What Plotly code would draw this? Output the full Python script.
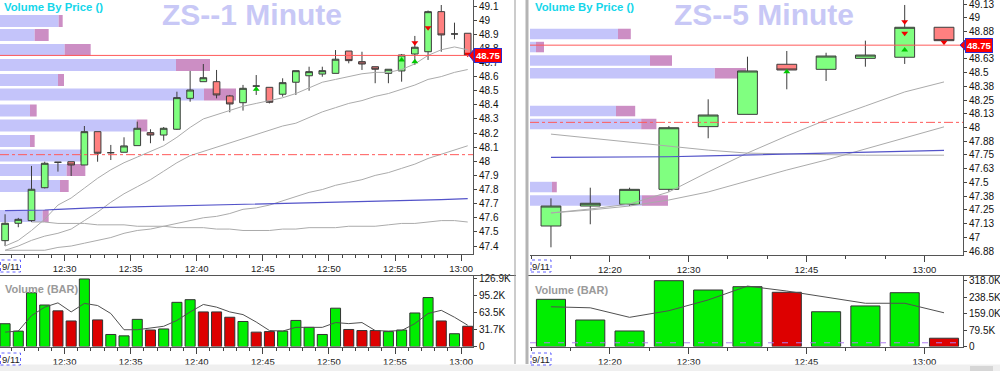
import pandas as pd
import plotly.graph_objects as go

DAY = "2023-09-11"
FONT = "Liberation Sans, Arial, sans-serif"

# ---------------- 1-minute chart (left) ----------------
times_1m = ["12:25", "12:26", "12:27", "12:28", "12:29", "12:30", "12:31", "12:32", "12:33", "12:34",
            "12:35", "12:36", "12:37", "12:38", "12:39", "12:40", "12:41", "12:42", "12:43", "12:44",
            "12:45", "12:46", "12:47", "12:48", "12:49", "12:50", "12:51", "12:52", "12:53", "12:54",
            "12:55", "12:56", "12:57", "12:58", "12:59", "13:00"]
open_1m = [47.438, 47.561, 47.580, 47.813, 47.993, 47.997, 47.974, 48.210, 48.061, 48.064,
           48.111, 48.203, 48.186, 48.227, 48.446, 48.564, 48.564, 48.463, 48.415, 48.533,
           48.524, 48.475, 48.560, 48.606, 48.618, 48.623, 48.781, 48.706, 48.670, 48.623,
           48.640, 48.760, 48.776, 49.060, 48.902, 48.907]
high_1m = [47.625, 47.599, 47.967, 47.997, 47.993, 47.997, 48.250, 48.210, 48.116, 48.170,
           48.281, 48.227, 48.243, 48.493, 48.640, 48.689, 48.647, 48.470, 48.541, 48.611,
           48.524, 48.588, 48.642, 48.670, 48.670, 48.788, 48.781, 48.776, 48.670, 48.652,
           48.760, 48.888, 49.068, 49.107, 48.982, 48.907]
low_1m = [47.400, 47.533, 47.570, 47.808, 47.927, 47.896, 47.974, 47.997, 48.009, 48.064,
          48.111, 48.128, 48.146, 48.222, 48.422, 48.564, 48.446, 48.347, 48.359, 48.470,
          48.410, 48.458, 48.470, 48.500, 48.599, 48.623, 48.694, 48.647, 48.553, 48.553,
          48.564, 48.682, 48.718, 48.776, 48.864, 48.750]
close_1m = [47.561, 47.589, 47.802, 47.986, 47.993, 47.974, 48.210, 48.057, 48.061, 48.109,
            48.234, 48.186, 48.234, 48.451, 48.505, 48.592, 48.470, 48.406, 48.517, 48.533,
            48.418, 48.557, 48.642, 48.635, 48.642, 48.723, 48.713, 48.689, 48.652, 48.652,
            48.753, 48.808, 49.060, 48.895, 48.902, 48.750]
avg_fast_1m = [47.40, 47.44, 47.51, 47.59, 47.69, 47.74, 47.81, 47.88, 47.94, 47.99,
               48.03, 48.07, 48.11, 48.17, 48.24, 48.30, 48.33, 48.36, 48.39, 48.41,
               48.43, 48.45, 48.48, 48.52, 48.56, 48.58, 48.60, 48.62, 48.63, 48.63,
               48.65, 48.69, 48.75, 48.79, 48.81, 48.79]
avg_mid_1m = [47.37, 47.40, 47.44, 47.47, 47.49, 47.52, 47.58, 47.64, 47.71, 47.77,
              47.82, 47.87, 47.93, 47.99, 48.04, 48.07, 48.10, 48.13, 48.16, 48.19,
              48.22, 48.25, 48.27, 48.31, 48.35, 48.38, 48.41, 48.43, 48.46, 48.48,
              48.51, 48.54, 48.58, 48.60, 48.63, 48.65]
avg_slow_1m = [47.37, 47.37, 47.37, 47.37, 47.39, 47.40, 47.42, 47.44, 47.46, 47.49,
               47.51, 47.52, 47.54, 47.56, 47.58, 47.60, 47.61, 47.63, 47.66, 47.67,
               47.69, 47.72, 47.75, 47.78, 47.80, 47.83, 47.85, 47.87, 47.90, 47.92,
               47.95, 47.98, 48.02, 48.05, 48.08, 48.11]
avg_long_1m = [None, None, 47.57, 47.57, 47.56, 47.56, 47.56, 47.55, 47.55, 47.55,
               47.54, 47.54, 47.54, 47.53, 47.53, 47.53, 47.52, 47.52, 47.51, 47.51,
               47.51, 47.52, 47.52, 47.53, 47.53, 47.53, 47.54, 47.54, 47.54, 47.55,
               47.56, 47.56, 47.57, 47.58, 47.58, 47.57]
vwap_1m = [47.650, 47.650, 47.650, 47.655, 47.660, 47.665, 47.670, 47.672, 47.674, 47.676,
           47.678, 47.680, 47.682, 47.684, 47.686, 47.688, 47.690, 47.692, 47.694, 47.696,
           47.698, 47.700, 47.702, 47.704, 47.706, 47.708, 47.710, 47.712, 47.714, 47.716,
           47.718, 47.720, 47.724, 47.728, 47.732, 47.735]
vol_1m_k = [42.8, 28.9, 101, 78, 67, 48, 126.9, 50, 22.6, 20,
            51, 31, 33, 83, 88, 65, 65, 55, 47, 27,
            28, 29, 49, 36, 22.6, 72, 32, 30, 30, 28,
            31, 63, 92, 48, 24, 38]
vol_dir_1m = ["up", "up", "up", "up", "dn", "dn", "up", "dn", "up", "up",
              "up", "dn", "up", "up", "up", "dn", "dn", "dn", "up", "dn",
              "dn", "up", "up", "up", "up", "up", "dn", "dn", "dn", "up",
              "up", "up", "up", "dn", "up", "dn"]
vol_avg_1m_k = [27, 29, 58, 74, 82, 65, 81, 77, 62, 31.5,
                31.5, 34.5, 38, 49, 65, 79, 74, 65, 60, 46,
                30, 29, 36, 36, 36, 45, 43, 45, 30, 29,
                30, 43, 62, 68, 55, 40]
vbp_price_1m = [48.994, 48.895, 48.788, 48.682, 48.576, 48.473, 48.360, 48.254, 48.144,
                48.041, 47.939, 47.825, 47.613]
vbp_up_1m_k = [88, 52, 97, 264, 87, 306, 45, 205, 45, 120, 100, 90, 64]
vbp_dn_1m_k = [6, 21, 39, 51, 9, 48, 10, 16, 7, 9, 28, 13, 9]
sig_up_1m_t = ["12:44", "12:55", "12:56"]
sig_up_1m_p = [48.510, 48.718, 48.706]
sig_dn_1m_t = ["12:56", "12:57", "13:00"]
sig_dn_1m_p = [48.840, 48.946, 48.758]
price_ticks_1m = [47.4, 47.5, 47.6, 47.7, 47.8, 47.9, 48.0, 48.1, 48.2, 48.3, 48.4, 48.5,
                  48.6, 48.7, 48.8, 48.9, 49.0, 49.1]
price_labels_1m = ["47.4", "47.5", "47.6", "47.7", "47.8", "47.9", "48", "48.1", "48.2", "48.3",
                   "48.4", "48.5", "48.6", "48.7", "48.8", "48.9", "49", "49.1"]
vol_ticks_1m_k = [0, 31.725, 63.45, 95.175, 126.9]
vol_labels_1m = ["0", "31.7K", "63.5K", "95.2K", "126.9K"]
time_ticks_1m = ["12:30", "12:35", "12:40", "12:45", "12:50", "12:55", "13:00"]

# ---------------- 5-minute chart (right) ----------------
times_5m = ["12:10", "12:15", "12:20", "12:25", "12:30", "12:35", "12:40", "12:45", "12:50",
            "12:55", "13:00"]
open_5m = [47.103, 47.285, 47.301, 47.437, 48.008, 48.120, 48.576, 48.530, 48.630, 48.640, 48.913]
high_5m = [47.355, 47.452, 47.452, 48.014, 48.257, 48.645, 48.697, 48.681, 48.791, 49.116, 48.913]
low_5m = [46.909, 47.119, 47.285, 47.416, 47.902, 48.120, 48.348, 48.424, 48.554, 48.579, 48.791]
close_5m = [47.285, 47.310, 47.437, 47.998, 48.114, 48.515, 48.524, 48.651, 48.660, 48.913, 48.791]
avg_fast_5m = [47.222, 47.258, 47.303, 47.413, 47.595, 47.768, 47.923, 48.069, 48.196, 48.324, 48.415]
avg_slow_5m = [47.222, 47.249, 47.285, 47.340, 47.413, 47.513, 47.613, 47.704, 47.804, 47.905, 48.006]
avg_long_5m = [47.940, 47.903, 47.867, 47.830, 47.794, 47.767, 47.757, 47.753, 47.748, 47.748, 47.748]
vwap_5m = [47.729, 47.729, 47.732, 47.734, 47.741, 47.750, 47.754, 47.768, 47.777, 47.786, 47.791]
vol_5m_k = [228, 128, 75, 318, 273, 289, 262, 168, 196, 260, 40]
vol_dir_5m = ["up", "up", "up", "up", "up", "up", "dn", "up", "up", "up", "dn"]
vol_avg_5m_k = [192, 187, 141, 173, 225, 292, 268, 239, 209, 209, 163]
vol_ref_5m_k = 18
vbp_price_5m = [48.852, 48.733, 48.610, 48.494, 48.150, 48.032, 47.458, 47.335]
vbp_up_5m_k = [220, 15, 300, 462, 215, 278, 55, 280]
vbp_dn_5m_k = [32, 20, 55, 78, 48, 38, 12, 65]
sig_up_5m_t = ["12:40", "12:55"]
sig_up_5m_p = [48.508, 48.706]
sig_dn_5m_t = ["12:55", "12:55", "13:00"]
sig_dn_5m_p = [48.964, 48.858, 48.776]
price_ticks_5m = [46.875, 47.0, 47.125, 47.25, 47.375, 47.5, 47.625, 47.75, 47.875, 48.0,
                  48.125, 48.25, 48.375, 48.5, 48.625, 48.875, 49.0, 49.125]
price_labels_5m = ["46.88", "47", "47.13", "47.25", "47.38", "47.5", "47.63", "47.75", "47.88",
                   "48", "48.13", "48.25", "48.38", "48.5", "48.63", "48.88", "49", "49.13"]
vol_ticks_5m_k = [0, 79.5, 159.0, 238.5, 318.0]
vol_labels_5m = ["0", "79.5K", "159.0K", "238.5K", "318.0K"]
time_ticks_5m = ["12:20", "12:30", "12:45", "13:00"]

last_price = 48.75
level_price = 48.047


# ---------------- helpers (positions / styling only) ----------------
def ts(t, shift_s=0):
    return pd.Timestamp(f"{DAY} {t}") + pd.Timedelta(seconds=shift_s)


def X(px):
    return px / 1000.0


def Y(py):
    return 1 - py / 371.0


x1 = [ts(t, 30) for t in times_1m]
x5 = [ts(t, 150) for t in times_5m]
GREEN_C, RED_C = "#80ff80", "#ff8080"
GREEN_V, RED_V = "#00ee00", "#dd0000"
EDGE = "#3c3c3c"
GREY = "#ababab"
BLUE = "#5353c9"

fig = go.Figure()


def add_panel(xt, o, h, l, c, lines, vwap, vbp_p, vbp_u, vbp_d, vbp_w,
              vbp_ax, time_ax, price_ax, vol_xax, vol_yax, vols, dirs, vavg, bar_w_ms,
              su_t, su_p, sd_t, sd_p, shift):
    fig.add_trace(go.Bar(orientation="h", y=vbp_p, x=vbp_u, base=[0] * len(vbp_u), width=vbp_w,
                         marker=dict(color="#c4c4fa", line=dict(width=0)),
                         xaxis=vbp_ax, yaxis=price_ax, hoverinfo="skip"))
    fig.add_trace(go.Bar(orientation="h", y=vbp_p, x=vbp_d, base=vbp_u, width=vbp_w,
                         marker=dict(color="#cc8ec4", line=dict(width=0)),
                         xaxis=vbp_ax, yaxis=price_ax, hoverinfo="skip"))
    for ln in lines:
        fig.add_trace(go.Scatter(x=xt, y=ln, mode="lines", line=dict(color=GREY, width=1),
                                 xaxis=time_ax, yaxis=price_ax, hoverinfo="skip"))
    fig.add_trace(go.Scatter(x=xt, y=vwap, mode="lines", line=dict(color=BLUE, width=1.2),
                             xaxis=time_ax, yaxis=price_ax, hoverinfo="skip"))
    fig.add_trace(go.Candlestick(x=xt, open=o, high=h, low=l, close=c, whiskerwidth=0,
                                 increasing=dict(fillcolor=GREEN_C, line=dict(color=EDGE, width=1)),
                                 decreasing=dict(fillcolor=RED_C, line=dict(color=EDGE, width=1)),
                                 xaxis=time_ax, yaxis=price_ax, hoverinfo="skip"))
    fig.add_trace(go.Scatter(x=[ts(t, shift) for t in su_t], y=su_p, mode="markers",
                             marker=dict(symbol="triangle-up", size=6, color="#00c800"),
                             xaxis=time_ax, yaxis=price_ax, hoverinfo="skip"))
    fig.add_trace(go.Scatter(x=[ts(t, shift) for t in sd_t], y=sd_p, mode="markers",
                             marker=dict(symbol="triangle-down", size=6, color="#f00000"),
                             xaxis=time_ax, yaxis=price_ax, hoverinfo="skip"))
    fig.add_trace(go.Bar(x=xt, y=vols, width=bar_w_ms,
                         marker=dict(color=[GREEN_V if d == "up" else RED_V for d in dirs],
                                     line=dict(color="#333333", width=1)),
                         xaxis=vol_xax, yaxis=vol_yax, hoverinfo="skip"))
    fig.add_trace(go.Scatter(x=xt, y=vavg, mode="lines", line=dict(color="#505050", width=1),
                             xaxis=vol_xax, yaxis=vol_yax, hoverinfo="skip"))


add_panel(x1, open_1m, high_1m, low_1m, close_1m,
          [avg_long_1m, avg_slow_1m, avg_mid_1m, avg_fast_1m], vwap_1m,
          vbp_price_1m, vbp_up_1m_k, vbp_dn_1m_k, 0.085,
          "x", "x5", "y", "x2", "y2", vol_1m_k, vol_dir_1m, vol_avg_1m_k, 45600,
          sig_up_1m_t, sig_up_1m_p, sig_dn_1m_t, sig_dn_1m_p, 30)
add_panel(x5, open_5m, high_5m, low_5m, close_5m,
          [avg_long_5m, avg_slow_5m, avg_fast_5m], vwap_5m,
          vbp_price_5m, vbp_up_5m_k, vbp_dn_5m_k, 0.0956,
          "x3", "x6", "y3", "x4", "y4", vol_5m_k, vol_dir_5m, vol_avg_5m_k, 222000,
          sig_up_5m_t, sig_up_5m_p, sig_dn_5m_t, sig_dn_5m_p, 150)
fig.add_trace(go.Scatter(x=[ts("12:09:50"), ts("13:04:55")], y=[vol_ref_5m_k, vol_ref_5m_k],
                         mode="lines", line=dict(color="#b07ff0", width=1, dash="6px,8px"),
                         xaxis="x4", yaxis="y4", hoverinfo="skip"))

TICKF = dict(family=FONT, size=10, color="#111111")
XTICKF = dict(family=FONT, size=9.5, color="#222222")


def time_axis(rng, tick_list, minor_ms, anchor, overlay=None, domain=None):
    d = dict(type="date", range=rng, anchor=anchor,
             tickmode="array", tickvals=[f"{DAY} {t}" for t in tick_list], ticktext=tick_list,
             ticks="outside", ticklen=6, tickcolor="#444", tickwidth=1,
             minor=dict(tickmode="linear", tick0=f"{DAY} 12:00", dtick=minor_ms,
                        ticks="outside", ticklen=3, tickcolor="#444", showgrid=False),
             showline=True, linecolor="#555", linewidth=1, showgrid=False, zeroline=False,
             tickfont=XTICKF, rangeslider=dict(visible=False), fixedrange=True)
    if overlay:
        d["overlaying"] = overlay
    if domain:
        d["domain"] = domain
    return d


def val_axis(domain, rng, tv, tt, anchor):
    return dict(domain=domain, range=rng, anchor=anchor, side="right",
                tickmode="array", tickvals=tv, ticktext=tt,
                ticks="outside", ticklen=3, tickcolor="#444",
                showline=True, linecolor="#555", linewidth=1, ticklabeloverflow="allow",
                showgrid=False, zeroline=False, tickfont=TICKF, fixedrange=True)


L_DOM = [0, X(473)]
R_DOM = [X(530), X(963)]
P1_DOM = [Y(253.5), 1]
P5_DOM = [Y(255), 1]
V_DOM = [Y(346.5), Y(276)]
L_RNG = [f"{DAY} 12:25:07", f"{DAY} 13:00:54"]
R_RNG = [f"{DAY} 12:09:50", f"{DAY} 13:04:55"]

fig.update_layout(
    width=1000, height=371, margin=dict(l=0, r=0, t=0, b=0, autoexpand=False),
    paper_bgcolor="white", plot_bgcolor="white", showlegend=False,
    barmode="overlay", boxgap=0.28, hovermode=False,
    font=dict(family=FONT, size=10, color="#111"),
    xaxis=dict(domain=L_DOM, range=[0, 709.5], visible=False, anchor="y", fixedrange=True),
    yaxis=val_axis(P1_DOM, [47.347, 49.1425], price_ticks_1m, price_labels_1m, "x"),
    xaxis5=time_axis(L_RNG, time_ticks_1m, 60000, "y", overlay="x"),
    xaxis2=time_axis(L_RNG, time_ticks_1m, 60000, "y2", domain=L_DOM),
    yaxis2=val_axis(V_DOM, [0, 132.5], vol_ticks_1m_k, vol_labels_1m, "x2"),
    xaxis3=dict(domain=R_DOM, range=[0, 1082.5], visible=False, anchor="y3", fixedrange=True),
    yaxis3=val_axis(P5_DOM, [46.839, 49.1614], price_ticks_5m, price_labels_5m, "x3"),
    xaxis6=time_axis(R_RNG, time_ticks_5m, 300000, "y3", overlay="x3"),
    xaxis4=time_axis(R_RNG, time_ticks_5m, 300000, "y4", domain=R_DOM),
    yaxis4=val_axis(V_DOM, [0, 340.7], vol_ticks_5m_k, vol_labels_5m, "x4"),
)

shapes = []
ann = []
for xd, yr in (("x domain", "y"), ("x3 domain", "y3")):
    shapes.append(dict(type="line", xref=xd, yref=yr, x0=0, x1=1, y0=last_price, y1=last_price,
                       line=dict(color="#ff5a5a", width=1), layer="above"))
    shapes.append(dict(type="line", xref=xd, yref=yr, x0=0, x1=1, y0=level_price, y1=level_price,
                       line=dict(color="#ff5a5a", width=1, dash="dashdot"), layer="above"))
for xa, yr in ((474, "y"), (965, "y3")):
    shapes.append(dict(type="path", xref="paper", yref=yr,
                       path=f"M {X(xa - 5)},{last_price} L {X(xa)},{last_price + 0.045} "
                            f"L {X(xa)},{last_price - 0.045} Z",
                       fillcolor="#ff0000", line=dict(color="#2d2dd2", width=1), layer="above"))
    ann.append(dict(xref="paper", yref=yr, x=X(xa), y=last_price, xanchor="left", yanchor="middle",
                    text=f"<b>{last_price:.2f}</b>", showarrow=False,
                    font=dict(family=FONT, size=9.5, color="white"),
                    bgcolor="#ff0000", bordercolor="#2d2dd2", borderwidth=1, borderpad=1))
shapes += [
    dict(type="line", xref="paper", yref="paper", x0=0, x1=X(516), y0=Y(275.5), y1=Y(275.5),
         line=dict(color="#555", width=1)),
    dict(type="line", xref="paper", yref="paper", x0=X(528), x1=1, y0=Y(275.5), y1=Y(275.5),
         line=dict(color="#555", width=1)),
    dict(type="line", xref="paper", yref="paper", x0=X(515), x1=X(515), y0=Y(364), y1=1,
         line=dict(color="#999", width=1)),
    dict(type="rect", xref="paper", yref="paper", x0=X(525.5), x1=X(528.5), y0=Y(364), y1=1,
         fillcolor="#b4b4b4", line=dict(width=0)),
    dict(type="rect", xref="paper", yref="paper", x0=0, x1=1, y0=0, y1=Y(364.5),
         fillcolor="#efefef", line=dict(width=0)),
    dict(type="rect", xref="paper", yref="paper", x0=X(970), x1=X(993), y0=0, y1=Y(366),
         fillcolor="#d6d6d6", line=dict(width=0)),
]
for x0 in (0.5, 531):
    for yc in (266, 359):
        shapes.append(dict(type="rect", xref="paper", yref="paper", x0=X(x0), x1=X(x0 + 20),
                           y0=Y(yc + 6), y1=Y(yc - 6), line=dict(color="#6262ff", width=1, dash="dot"),
                           fillcolor="white", layer="above"))
        ann.append(dict(xref="paper", yref="paper", x=X(x0 + 10), y=Y(yc), text="9/11",
                        showarrow=False, xanchor="center", yanchor="middle",
                        font=dict(family=FONT, size=9.5, color="#222")))
for xc, label in ((252, "ZS--1 Minute"), (764, "ZS--5 Minute")):
    ann.append(dict(xref="paper", yref="paper", x=X(xc), y=Y(14), text=f"<b>{label}</b>",
                    showarrow=False, xanchor="center", yanchor="middle", height=26, borderpad=0,
                    font=dict(family=FONT, size=30, color="#c8c8f6")))
for x0 in (2, 533):
    ann.append(dict(xref="paper", yref="paper", x=X(x0), y=Y(7.5), text="<b>Volume By Price ()</b>",
                    showarrow=False, xanchor="left", yanchor="middle",
                    font=dict(family=FONT, size=11.3, color="#14d6ea")))
for x0, yc in ((3, 288.5), (533, 289.5)):
    ann.append(dict(xref="paper", yref="paper", x=X(x0), y=Y(yc), text="<b>Volume (BAR)</b>",
                    showarrow=False, xanchor="left", yanchor="middle",
                    font=dict(family=FONT, size=11, color="#9a9a9a")))

fig.update_layout(shapes=shapes, annotations=ann)
fig.write_html("out.html", config={"displayModeBar": False, "staticPlot": True})

# remove the browser's default page margin so the figure sits at the window origin
with open("out.html", "r", encoding="utf-8") as fh:
    html = fh.read()
html = html.replace("<head>", "<head><style>html,body{margin:0;padding:0;overflow:hidden;}</style>", 1)
with open("out.html", "w", encoding="utf-8") as fh:
    fh.write(html)
